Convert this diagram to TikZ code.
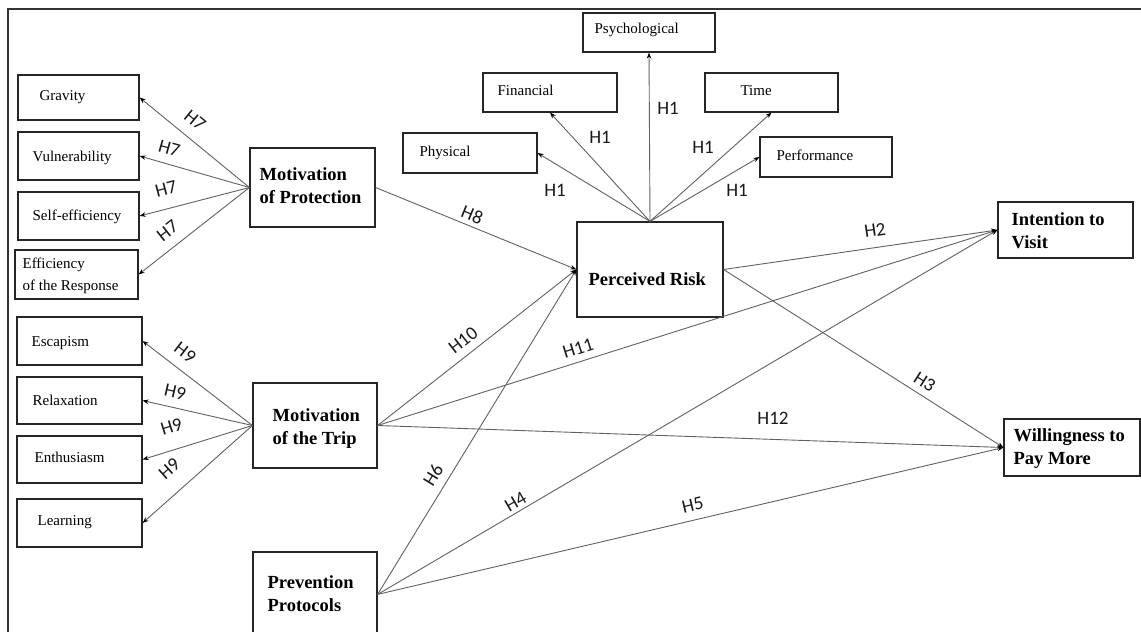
\documentclass[tikz,border=0pt]{standalone}
\usepackage{fontspec}
\setmainfont{Liberation Serif}
\newfontfamily\labfont{Carlito}
\usetikzlibrary{arrows.meta,calc}
\begin{document}
\begin{tikzpicture}[x=1pt,y=-1pt,
  box/.style={draw=black!85, line width=1.2pt, inner sep=0pt},
  txt/.style={anchor=west, inner sep=0pt, align=left, font=\fontsize{15}{22}\selectfont},
  btxt/.style={anchor=west, inner sep=0pt, align=left, font=\fontsize{18.5}{23}\selectfont\bfseries},
  conn/.style={draw=black!62, line width=0.9pt, -{Stealth[length=6pt,width=4.5pt,black]}},
  hl/.style={font=\labfont\fontsize{19}{20}\selectfont, inner sep=0pt, text=black!90},
  hs/.style={hl, sloped, above=#1}]
\useasboundingbox (0,0) rectangle (1141,632);
\clip (0,0) rectangle (1141,632);
\fill[white] (0,0) rectangle (1141,632);
\draw[black!80, line width=1.3pt] (8,640) -- (8,9) -- (1145,9);

% left upper boxes
\node[box, minimum width=121pt, minimum height=45pt] (grav) at (78.5,97.5) {};
\node[box, minimum width=121pt, minimum height=48pt] (vuln) at (78.5,156) {};
\node[box, minimum width=121pt, minimum height=48pt] (self) at (78.5,216) {};
\node[box, minimum width=123pt, minimum height=49pt] (effi) at (76.5,274.5) {};
\node[box, minimum width=125pt, minimum height=79pt] (mop) at (312.5,187.5) {};
% left lower boxes
\node[box, minimum width=125pt, minimum height=48pt] (esc) at (79.5,341) {};
\node[box, minimum width=125pt, minimum height=47pt] (rel) at (79.5,400.5) {};
\node[box, minimum width=125pt, minimum height=47pt] (ent) at (79.5,459.5) {};
\node[box, minimum width=125pt, minimum height=48pt] (lea) at (79.5,523) {};
\node[box, minimum width=124pt, minimum height=85pt] (mot) at (315,425.5) {};
\node[box, minimum width=124pt, minimum height=108pt] (prev) at (315,606) {};
% top boxes
\node[box, minimum width=132pt, minimum height=39pt] (psy) at (649,32.5) {};
\node[box, minimum width=134pt, minimum height=39pt] (fin) at (550,92.5) {};
\node[box, minimum width=133pt, minimum height=39pt] (time) at (771.5,92.5) {};
\node[box, minimum width=134pt, minimum height=40pt] (phys) at (470,153) {};
\node[box, minimum width=132pt, minimum height=40pt] (perf) at (826,157) {};
\node[box, minimum width=146pt, minimum height=95pt] (pr) at (650,269.5) {};
% right boxes
\node[box, minimum width=135pt, minimum height=56pt] (itv) at (1065.5,230) {};
\node[box, minimum width=136pt, minimum height=57pt] (wtp) at (1072,447.5) {};

% texts
\node[txt] (tgrav) at ($(grav.west)+(22,0)$) {Gravity};
\node[txt] (tvuln) at ($(vuln.west)+(15,2)$) {Vulnerability};
\node[txt] (tself) at ($(self.west)+(15,1)$) {Self-efficiency};
\node[txt] (teffi) at ($(effi.west)+(8,1)$) {Efficiency\\of the Response};
\node[btxt] (tmop) at ($(mop.west)+(10,-2)$) {Motivation\\of Protection};
\node[txt] (tesc) at ($(esc.west)+(15,2)$) {Escapism};
\node[txt] (trel) at ($(rel.west)+(16,0)$) {Relaxation};
\node[txt] (tent) at ($(ent.west)+(18,-2)$) {Enthusiasm};
\node[txt] (tlea) at ($(lea.west)+(21,-1)$) {Learning};
\node[btxt] (tmot) at ($(mot.west)+(20,3)$) {Motivation\\of the Trip};
\node[btxt] (tprev) at ($(prev.north west)+(15,42)$) {Prevention\\Protocols};
\node[txt] (tpsy) at ($(psy.west)+(12,-3)$) {Psychological};
\node[txt] (tfin) at ($(fin.west)+(15,-2)$) {Financial};
\node[txt] (ttime) at ($(time.west)+(36,-2)$) {Time};
\node[txt] (tphys) at ($(phys.west)+(17,0)$) {Physical};
\node[txt] (tperf) at ($(perf.west)+(17,-2)$) {Performance};
\node[btxt] (tpr) at ($(pr.west)+(12,10)$) {Perceived Risk};
\node[btxt] (titv) at ($(itv.west)+(14,1)$) {Intention to\\Visit};
\node[btxt] (twtp) at ($(wtp.west)+(10,1)$) {Willingness to\\Pay More};

\coordinate (pout) at ($(prev.north east)+(0,43)$);

% H7
\draw[conn] (mop.west) -- node[pos=0.596, hs=11pt] (l7a) {H7} (grav.east);
\draw[conn] (mop.west) -- node[pos=0.768, hs=8.8pt] (l7b) {H7} (vuln.east);
\draw[conn] (mop.west) -- node[pos=0.716, hs=12.7pt] (l7c) {H7} (self.east);
\draw[conn] (mop.west) -- node[pos=0.647, hs=10pt] (l7d) {H7} (effi.east);
% H9
\draw[conn] (mot.west) -- node[pos=0.706, hs=10.3pt] (l9a) {H9} (esc.east);
\draw[conn] (mot.west) -- node[pos=0.734, hs=9pt] (l9b) {H9} (rel.east);
\draw[conn] (mot.west) -- node[pos=0.676, hs=16pt] (l9c) {H9} (ent.east);
\draw[conn] (mot.west) -- node[pos=0.618, hs=16.5pt] (l9d) {H9} (lea.east);
% H1
\draw[conn] (pr.north) -- (phys.east);
\draw[conn] (pr.north) -- (fin.south);
\draw[conn] (pr.north) -- (psy.south);
\draw[conn] (pr.north) -- (time.south);
\draw[conn] (pr.north) -- (perf.west);
\node[hl] (l1a) at (555,190) {H1};
\node[hl] (l1b) at (600,137) {H1};
\node[hl] (l1c) at (668,108) {H1};
\node[hl] (l1d) at (703,147) {H1};
\node[hl] (l1e) at (737,190) {H1};
% into perceived risk
\draw[conn] (mop.east) -- node[pos=0.46, hs=4.2pt] (l8) {H8} (pr.west);
\draw[conn] (mot.east) -- node[pos=0.475, hs=7.8pt] (l10) {H10} (pr.west);
\draw[conn] (pout) -- node[pos=0.343, hs=8pt] (l6) {H6} (pr.west);
% outcomes
\draw[conn] (pr.east) -- node[pos=0.562, hs=10.7pt] (l2) {H2} (itv.west);
\draw[conn] (pr.east) -- node[pos=0.694, hs=6.2pt] (l3) {H3} (wtp.west);
\draw[conn] (mot.east) -- node[pos=0.33, hs=6.8pt] (l11) {H11} (itv.west);
\draw[conn] (mot.east) -- (wtp.west);
\node[hl] (l12) at (773,418) {H12};
\draw[conn] (pout) -- node[pos=0.231, hs=3.8pt] (l4) {H4} (itv.west);
\draw[conn] (pout) -- node[pos=0.509, hs=8.3pt] (l5) {H5} (wtp.west);
\end{tikzpicture}
\end{document}
